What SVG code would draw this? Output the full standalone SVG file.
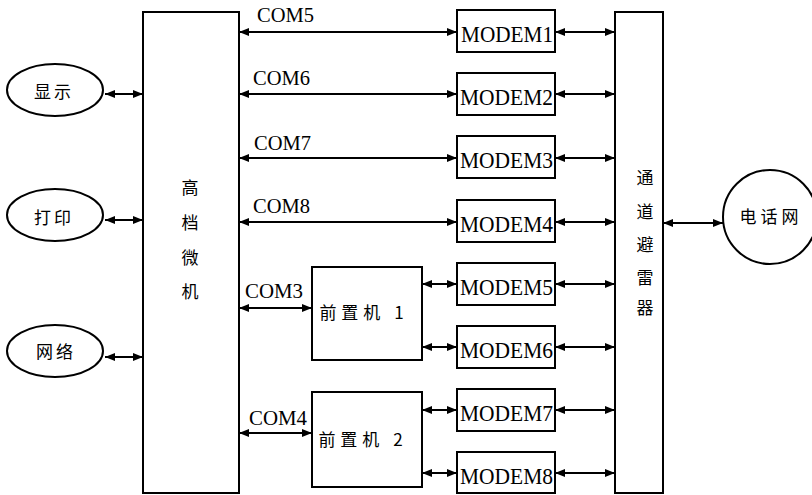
<svg xmlns="http://www.w3.org/2000/svg" width="812" height="495" viewBox="0 0 812 495">
<defs>
<style>
.box{fill:#fff;stroke:#000;stroke-width:2}
.ln{fill:none;stroke:#000;stroke-width:2;marker-start:url(#ah);marker-end:url(#ah)}
.cjk{font-family:"Noto Sans CJK SC","Noto Sans",sans-serif;font-size:17px;fill:#000}
.lat{font-family:"Liberation Serif",serif;font-size:21px;fill:#000}
.mdm{font-family:"Liberation Serif",serif;font-size:23px;fill:#000}
</style>
<marker id="ah" viewBox="0 0 10 8" refX="10" refY="4" markerWidth="10" markerHeight="8" markerUnits="userSpaceOnUse" orient="auto-start-reverse">
<path d="M0,0 L10,4 L0,8 z" fill="#000"/>
</marker>
</defs>
<rect width="812" height="495" fill="#fff"/>

<g id="host">
<rect class="box" x="143" y="12" width="96" height="481"/>
<text class="cjk" x="190" y="194" text-anchor="middle">高</text>
<text class="cjk" x="190" y="229" text-anchor="middle">档</text>
<text class="cjk" x="190" y="264" text-anchor="middle">微</text>
<text class="cjk" x="190" y="298" text-anchor="middle">机</text>
</g>

<g id="arrester">
<rect class="box" x="615" y="12" width="48" height="481"/>
<text class="cjk" x="645" y="184" text-anchor="middle">通</text>
<text class="cjk" x="645" y="218" text-anchor="middle">道</text>
<text class="cjk" x="645" y="251" text-anchor="middle">避</text>
<text class="cjk" x="645" y="284" text-anchor="middle">雷</text>
<text class="cjk" x="645" y="314" text-anchor="middle">器</text>
</g>

<g id="display">
<ellipse class="box" cx="55" cy="90" rx="48" ry="26"/>
<text class="cjk" x="54" y="98" text-anchor="middle" letter-spacing="3">显示</text>
</g>
<g id="printer">
<ellipse class="box" cx="55" cy="215" rx="48" ry="26"/>
<text class="cjk" x="54" y="224" text-anchor="middle" letter-spacing="3">打印</text>
</g>
<g id="network">
<ellipse class="box" cx="55" cy="351" rx="48" ry="26"/>
<text class="cjk" x="56" y="358" text-anchor="middle" letter-spacing="3">网络</text>
</g>

<g id="phone">
<circle class="box" cx="770" cy="217" r="47"/>
<text class="cjk" x="771" y="223" text-anchor="middle" letter-spacing="4">电话网</text>
</g>

<g id="fep1">
<rect class="box" x="312" y="267" width="110" height="93"/>
<text class="cjk" x="364" y="319" text-anchor="middle" letter-spacing="5">前置机 1</text>
</g>
<g id="fep2">
<rect class="box" x="312" y="392" width="110" height="95"/>
<text class="cjk" x="363" y="446" text-anchor="middle" letter-spacing="5">前置机 2</text>
</g>

<g id="modem1"><rect class="box" x="457" y="10" width="98" height="42"/><text class="mdm" x="461" y="42" textLength="92" lengthAdjust="spacingAndGlyphs">MODEM1</text></g>
<g id="modem2"><rect class="box" x="457" y="73" width="98" height="42"/><text class="mdm" x="460" y="105" textLength="93" lengthAdjust="spacingAndGlyphs">MODEM2</text></g>
<g id="modem3"><rect class="box" x="457" y="136" width="98" height="42"/><text class="mdm" x="460" y="168" textLength="93" lengthAdjust="spacingAndGlyphs">MODEM3</text></g>
<g id="modem4"><rect class="box" x="457" y="200" width="98" height="42"/><text class="mdm" x="460" y="232" textLength="93" lengthAdjust="spacingAndGlyphs">MODEM4</text></g>
<g id="modem5"><rect class="box" x="457" y="263" width="98" height="42"/><text class="mdm" x="460" y="295" textLength="93" lengthAdjust="spacingAndGlyphs">MODEM5</text></g>
<g id="modem6"><rect class="box" x="457" y="326" width="98" height="42"/><text class="mdm" x="460" y="358" textLength="93" lengthAdjust="spacingAndGlyphs">MODEM6</text></g>
<g id="modem7"><rect class="box" x="457" y="389" width="98" height="42"/><text class="mdm" x="460" y="421" textLength="93" lengthAdjust="spacingAndGlyphs">MODEM7</text></g>
<g id="modem8"><rect class="box" x="457" y="452" width="98" height="41"/><text class="mdm" x="460" y="484" textLength="93" lengthAdjust="spacingAndGlyphs">MODEM8</text></g>

<g id="connectors">
<line class="ln" x1="105" y1="94" x2="143" y2="94"/>
<line class="ln" x1="105" y1="220" x2="143" y2="220"/>
<line class="ln" x1="105" y1="357" x2="143" y2="357"/>
<line class="ln" x1="663" y1="223" x2="723" y2="223"/>

<line class="ln" x1="239" y1="32" x2="457" y2="32"/>
<line class="ln" x1="239" y1="94" x2="457" y2="94"/>
<line class="ln" x1="239" y1="158" x2="457" y2="158"/>
<line class="ln" x1="239" y1="222" x2="457" y2="222"/>
<line class="ln" x1="239" y1="308" x2="312" y2="308"/>
<line class="ln" x1="239" y1="433" x2="312" y2="433"/>

<line class="ln" x1="422" y1="284" x2="457" y2="284"/>
<line class="ln" x1="422" y1="347" x2="457" y2="347"/>
<line class="ln" x1="422" y1="410" x2="457" y2="410"/>
<line class="ln" x1="422" y1="473" x2="457" y2="473"/>

<line class="ln" x1="555" y1="32" x2="615" y2="32"/>
<line class="ln" x1="555" y1="94" x2="615" y2="94"/>
<line class="ln" x1="555" y1="158" x2="615" y2="158"/>
<line class="ln" x1="555" y1="222" x2="615" y2="222"/>
<line class="ln" x1="555" y1="284" x2="615" y2="284"/>
<line class="ln" x1="555" y1="347" x2="615" y2="347"/>
<line class="ln" x1="555" y1="410" x2="615" y2="410"/>
<line class="ln" x1="555" y1="473" x2="615" y2="473"/>

<text class="lat" x="257" y="22" textLength="57" lengthAdjust="spacingAndGlyphs">COM5</text>
<text class="lat" x="253" y="85" textLength="57" lengthAdjust="spacingAndGlyphs">COM6</text>
<text class="lat" x="254" y="150" textLength="57" lengthAdjust="spacingAndGlyphs">COM7</text>
<text class="lat" x="253" y="213" textLength="57" lengthAdjust="spacingAndGlyphs">COM8</text>
<text class="lat" x="245" y="298" textLength="58" lengthAdjust="spacingAndGlyphs">COM3</text>
<text class="lat" x="249" y="425" textLength="58" lengthAdjust="spacingAndGlyphs">COM4</text>
</g>
</svg>
